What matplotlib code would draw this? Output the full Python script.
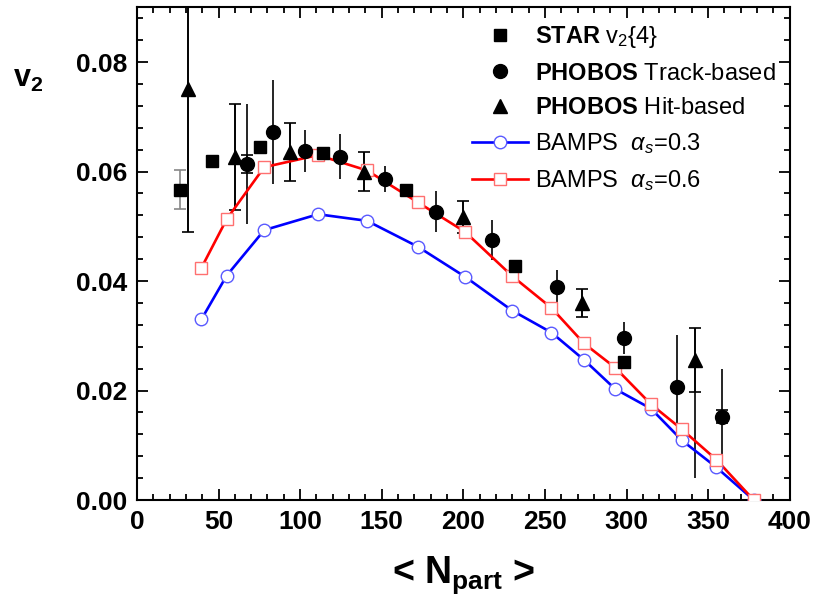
import numpy as np
import matplotlib
matplotlib.use('Agg')
from matplotlib import pyplot as plt
from matplotlib.lines import Line2D
from matplotlib.ticker import MultipleLocator, FormatStrFormatter

plt.rcParams['font.family'] = ['Liberation Sans', 'DejaVu Sans']
plt.rcParams['mathtext.fontset'] = 'custom'
plt.rcParams['mathtext.rm'] = 'Liberation Sans'
plt.rcParams['mathtext.it'] = 'Liberation Sans:italic'
plt.rcParams['mathtext.bf'] = 'Liberation Sans:bold'

# BAMPS calculations
npart_bamps = [39.5, 55, 78, 111, 141, 172, 201, 230, 254, 274, 293, 315, 334, 355, 378]
v2_as03 = [0.0330, 0.0410, 0.0493, 0.0522, 0.0510, 0.0463, 0.0408, 0.0346,
           0.0306, 0.0256, 0.0203, 0.0167, 0.0109, 0.0060, 0.0]
v2_as06 = [0.0424, 0.0513, 0.0608, 0.0630, 0.0602, 0.0544, 0.0490, 0.0409,
           0.0351, 0.0286, 0.0242, 0.0175, 0.0129, 0.0074, 0.0]

# STAR v2{4}
npart_star = [26.3, 46, 75.3, 114, 165.1, 231.9, 298.2]
v2_star = [0.0567, 0.0619, 0.0644, 0.0634, 0.0566, 0.0427, 0.0253]
err_star = [0.0035, 0, 0, 0, 0, 0, 0]

# PHOBOS track-based
npart_track = [67.2, 83.1, 102.9, 124.5, 151.9, 183.5, 217.8, 257.6, 298.2, 330.9, 358.4]
v2_track = [0.0614, 0.0673, 0.0637, 0.0627, 0.0587, 0.0527, 0.0475, 0.0390,
            0.0296, 0.0207, 0.0152]
err_track = [0.011, 0.0095, 0.0038, 0.0041, 0.0024, 0.0037, 0.0037, 0.0030,
             0.0030, 0.0094, 0.0088]
sys_track = [0.0016, 0, 0, 0, 0, 0, 0, 0, 0, 0, 0.0012]

# PHOBOS hit-based
npart_hit = [31.4, 60, 94, 139, 199.8, 272.7, 341.7]
v2_hit = [0.0750, 0.0627, 0.0636, 0.0600, 0.0517, 0.0360, 0.0256]
err_hit = [0.026, 0.0097, 0.0053, 0.0036, 0.0030, 0.0026, 0.0058]
err_hit_low = [0.026, 0.0097, 0.0053, 0.0036, 0.0030, 0.0026, 0.0216]

fig = plt.figure('v2_npart', figsize=(8.15, 6.04), dpi=100)
ax = fig.add_axes([0.168, 0.172, 0.801, 0.816])

# model curves
ax.plot(npart_bamps, v2_as03, '-', color='#0000ff', lw=1.9, zorder=3)
ax.plot(npart_bamps, v2_as03, 'o', ms=9, mfc='white', mec='#5a5aff', mew=1.0, zorder=4)
ax.plot(npart_bamps, v2_as06, '-', color='#ff0000', lw=1.9, zorder=3)
ax.plot(npart_bamps, v2_as06, 's', ms=8.5, mfc='white', mec='#ff7070', mew=1.0, zorder=4)

# error bars
ax.errorbar(npart_star, v2_star, yerr=err_star, fmt='none', ecolor='#888888',
            elinewidth=1.2, capsize=4.5, capthick=1.2, zorder=2)
ax.errorbar(npart_track, v2_track, yerr=err_track, fmt='none', ecolor='black',
            elinewidth=1.2, capsize=0, zorder=2)
ax.errorbar(npart_track, v2_track, yerr=sys_track, fmt='none', ecolor='black',
            elinewidth=1.2, capsize=4.5, capthick=1.2, zorder=2)
ax.errorbar(npart_hit, v2_hit, yerr=[err_hit_low, err_hit], fmt='none', ecolor='black',
            elinewidth=1.2, capsize=0, zorder=2)
ax.errorbar(npart_hit, v2_hit, yerr=err_hit, fmt='none', ecolor='black',
            elinewidth=1.2, capsize=4.5, capthick=1.2, zorder=2)

# data points
ax.plot(npart_star, v2_star, 's', color='black', ms=9, zorder=5)
ax.plot(npart_track, v2_track, 'o', color='black', ms=10, zorder=5)
ax.plot(npart_hit, v2_hit, '^', color='black', ms=10.5, zorder=5)

ax.set_xlim(0, 400)
ax.set_ylim(0, 0.09)
ax.xaxis.set_major_locator(MultipleLocator(50))
ax.xaxis.set_minor_locator(MultipleLocator(10))
ax.yaxis.set_major_locator(MultipleLocator(0.02))
ax.yaxis.set_minor_locator(MultipleLocator(0.004))
ax.yaxis.set_major_formatter(FormatStrFormatter('%.2f'))
ax.tick_params(which='both', direction='in', top=True, right=True, width=1.3)
ax.tick_params(which='major', length=8, labelsize=19, pad=7)
ax.tick_params(which='minor', length=4.5)
for lab in ax.get_xticklabels() + ax.get_yticklabels():
    lab.set_fontweight('bold')
for sp in ax.spines.values():
    sp.set_linewidth(1.5)

handles = [
    Line2D([], [], ls='none', marker='s', color='black', ms=9),
    Line2D([], [], ls='none', marker='o', color='black', ms=10),
    Line2D([], [], ls='none', marker='^', color='black', ms=10.5),
    Line2D([], [], color='#0000ff', lw=1.9, marker='o', ms=9, mfc='white', mec='#5a5aff', mew=1.0),
    Line2D([], [], color='#ff0000', lw=1.9, marker='s', ms=8.5, mfc='white', mec='#ff7070', mew=1.0),
]
labels = [
    r'$\mathbf{STAR}$ v$_2${4}',
    r'$\mathbf{PHOBOS}$ Track-based',
    r'$\mathbf{PHOBOS}$ Hit-based',
    r'BAMPS  $\alpha_s$=0.3',
    r'BAMPS  $\alpha_s$=0.6',
]
ax.legend(handles, labels, loc='upper left', bbox_to_anchor=(0.488, 1.0), frameon=False,
          fontsize=17, handlelength=2.33, handletextpad=0.3, labelspacing=0.52,
          borderaxespad=0.32)

fig.text(13/815, 1-87/604, r'$\mathbf{v}_\mathbf{2}$', fontsize=22, ha='left', va='baseline')
fig.text(464/815, 1-583/604, r'< $\mathbf{N}_\mathbf{part}$ >', fontsize=27,
         fontweight='bold', ha='center', va='baseline')

plt.savefig('out.png', dpi=100)
